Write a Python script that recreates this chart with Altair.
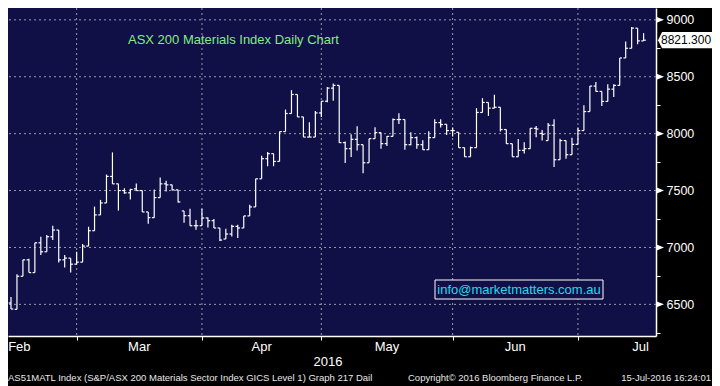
import altair as alt
import pandas as pd

# ---- data ----
opens = [6512, 6456, 6747, 6891, 6779, 7041, 6962, 7094, 7153, 6891, 6906, 6853, 6871, 7012, 7147, 7286, 7391, 7624, 7559, 7500,
         7480, 7515, 7500, 7312, 7262, 7438, 7559, 7550, 7506, 7321, 7279, 7191, 7191, 7259, 7235, 7171, 7074, 7118, 7185, 7171,
         7277, 7356, 7603, 7780, 7824, 7756, 8018, 8177, 8344, 8147, 7970, 7970, 8182, 8285, 8400, 8424, 7921, 7868, 7950, 7903,
         7744, 7956, 8009, 7912, 7976, 8124, 8124, 7903, 7965, 7903, 7859, 7965, 8097, 8082, 8027, 8012, 7877, 7797, 7877, 8186,
         8274, 8224, 8232, 8036, 7912, 7797, 7853, 7868, 8047, 8002, 7939, 8074, 7771, 7939, 7815, 7906, 8027, 8194, 8418, 8371,
         8283, 8391, 8424, 8665, 8750, 8927, 8815]
highs = [6565, 6765, 6891, 6900, 7041, 7094, 7109, 7191, 7153, 6933, 6906, 6962, 7030, 7182, 7359, 7418, 7641, 7835, 7559, 7520,
         7515, 7562, 7500, 7312, 7509, 7615, 7586, 7550, 7506, 7321, 7341, 7241, 7341, 7264, 7250, 7171, 7165, 7200, 7200, 7277,
         7376, 7603, 7806, 7838, 7824, 8018, 8212, 8382, 8344, 8147, 8100, 8200, 8285, 8409, 8441, 8424, 7932, 7994, 8065, 7903,
         7956, 8056, 8009, 7979, 8133, 8179, 8124, 8012, 7976, 7941, 8021, 8126, 8126, 8082, 8053, 8012, 7877, 7886, 8224, 8312,
         8274, 8341, 8232, 8036, 7912, 7953, 7924, 8047, 8067, 8032, 8094, 8126, 7956, 7939, 7965, 8053, 8250, 8418, 8453, 8371,
         8435, 8435, 8665, 8809, 8936, 8927, 8883]
lows = [6459, 6456, 6747, 6779, 6779, 6933, 6962, 7065, 6867, 6823, 6779, 6853, 6871, 7012, 7147, 7286, 7391, 7559, 7324, 7471,
        7421, 7500, 7312, 7209, 7262, 7438, 7491, 7500, 7394, 7218, 7191, 7156, 7191, 7176, 7171, 7056, 7074, 7097, 7083, 7171,
        7277, 7356, 7603, 7714, 7714, 7756, 8018, 8177, 8147, 7970, 7970, 7970, 8147, 8276, 8288, 7921, 7741, 7794, 7853, 7653,
        7744, 7956, 7868, 7891, 7976, 8085, 7859, 7897, 7868, 7859, 7859, 7965, 8053, 7988, 7974, 7877, 7797, 7797, 7877, 8186,
        8156, 8224, 8018, 7912, 7797, 7797, 7826, 7868, 7968, 7939, 7939, 7706, 7771, 7780, 7815, 7906, 8027, 8194, 8371, 8244,
        8283, 8323, 8424, 8665, 8750, 8786, 8815]
closes = [6459, 6747, 6891, 6779, 7041, 6962, 7094, 7153, 6891, 6906, 6853, 6871, 7012, 7147, 7286, 7391, 7624, 7559, 7500, 7480,
          7509, 7500, 7312, 7262, 7438, 7559, 7550, 7506, 7400, 7279, 7191, 7191, 7259, 7235, 7171, 7065, 7118, 7185, 7171, 7277,
          7356, 7603, 7780, 7824, 7756, 8018, 8177, 8344, 8147, 7970, 7970, 8182, 8285, 8400, 8424, 7921, 7868, 7950, 7903, 7744,
          7956, 8009, 7912, 7976, 8124, 8124, 7903, 7965, 7903, 7859, 7965, 8097, 8080, 8027, 8027, 7877, 7797, 7877, 8186, 8274,
          8224, 8232, 8036, 7912, 7797, 7853, 7868, 8047, 8041, 7994, 8074, 7771, 7939, 7815, 7906, 8027, 8194, 8418, 8371, 8283,
          8391, 8424, 8665, 8750, 8927, 8815, 8821.3]

month_starts = [11, 32, 52, 74, 95]            # bar index of the month-boundary gridlines
month_names = ["Feb", "Mar", "Apr", "May", "Jun", "Jul"]
month_label_pos = [1.4, 21.5, 42, 63, 84.5, 105.5]
price_levels = [6500, 7000, 7500, 8000, 8500, 9000]
tick_levels = [6250, 6500, 6750, 7000, 7250, 7500, 7750, 8000, 8250, 8500, 8750, 9000]

W, H = 648, 328
RP, BP = 56, 50
BG = "#100f46"
FONT = "Liberation Sans"

df = pd.DataFrame({"i": list(range(len(opens))), "open": opens, "high": highs,
                   "low": lows, "close": closes})

xs = alt.Scale(domain=[-0.5, 108.08], nice=False, zero=False)
ys = alt.Scale(domain=[6222, 9104], nice=False, zero=False)
x_axis = alt.Axis(values=month_starts, labels=False, ticks=True, tickSize=4, tickColor="white",
                  domainColor="white", domainWidth=1.5, grid=False, title=None)
y_axis = alt.Axis(orient="right", values=tick_levels, format="d", tickSize=4, tickColor="white",
                  domainColor="white", domainWidth=1.5, grid=False, title=None, labelPadding=6,
                  labelExpr="datum.value % 500 == 0 ? datum.label : ''",
                  labelColor="white", labelFontSize=12.5, labelFont=FONT, labelBaseline="middle")

grid_style = dict(color="#9a9aa6", strokeDash=[2, 3], strokeWidth=1)

vgrid = alt.Chart(pd.DataFrame({"m": month_starts})).mark_rule(**grid_style).encode(
    x=alt.X("m:Q", scale=xs, axis=x_axis))
hgrid = alt.Chart(pd.DataFrame({"v": price_levels})).mark_rule(**grid_style).encode(
    y=alt.Y("v:Q", scale=ys, axis=y_axis))

bar_style = dict(color="white", strokeWidth=1.2, clip=True)
hl = alt.Chart(df).mark_rule(**bar_style).encode(
    x=alt.X("i:Q", scale=xs, axis=x_axis),
    y=alt.Y("low:Q", scale=ys, axis=y_axis), y2="high:Q")
op = alt.Chart(df).transform_calculate(il="datum.i - 0.38").mark_rule(**bar_style).encode(
    x=alt.X("il:Q", scale=xs, axis=x_axis), x2="i:Q",
    y=alt.Y("open:Q", scale=ys, axis=y_axis))
cl = alt.Chart(df).transform_calculate(ir="datum.i + 0.38").mark_rule(**bar_style).encode(
    x=alt.X("i:Q", scale=xs, axis=x_axis), x2="ir:Q",
    y=alt.Y("close:Q", scale=ys, axis=y_axis))

# right-axis triangle pointers at the labelled levels
tri = alt.Chart(pd.DataFrame({"lv": price_levels})).mark_point(
    shape="M-1,-0.8L1,0L-1,0.8Z", filled=True, size=64, color="white", opacity=1).encode(
    x=alt.value(W + 4), y=alt.Y("lv:Q", scale=ys, axis=y_axis))

# last price tag
last_df = pd.DataFrame({"last": [closes[-1]], "txt": [f"{closes[-1]:.3f}"]})
tag = alt.Chart(last_df).mark_point(
    shape="M-1,0L-0.85,-0.3L1,-0.3L1,0.3L-0.85,0.3Z", filled=True, size=2916,
    color="white", opacity=1).encode(x=alt.value(W + 29), y=alt.Y("last:Q", scale=ys, axis=y_axis))
tag_txt = alt.Chart(last_df).mark_text(align="left", baseline="middle", font=FONT, fontSize=12,
                                       color="black").encode(
    x=alt.value(W + 5), y=alt.Y("last:Q", scale=ys, axis=y_axis), text="txt:N")

# month labels below the axis
months = alt.Chart(pd.DataFrame({"m": month_names, "p": month_label_pos})).mark_text(
    align="center", baseline="middle", font=FONT, fontSize=13, color="white").encode(
    x=alt.X("p:Q", scale=xs, axis=x_axis), y=alt.value(H + 11), text="m:N")

year = alt.Chart(pd.DataFrame({"t": ["2016"]})).mark_text(
    align="center", baseline="middle", font=FONT, fontSize=13, color="white").encode(
    x=alt.value(320), y=alt.value(H + 26), text="t:N")

title = alt.Chart(pd.DataFrame({"t": ["ASX 200 Materials Index Daily Chart"]})).mark_text(
    align="left", baseline="alphabetic", font=FONT, fontSize=13, color="#80ee80").encode(
    x=alt.value(120), y=alt.value(36), text="t:N")

wm_box = alt.Chart(pd.DataFrame({"t": [1]})).mark_rect(fill=BG, stroke="white", strokeWidth=1).encode(
    x=alt.value(427), x2=alt.value(595), y=alt.value(272), y2=alt.value(291))
wm_txt = alt.Chart(pd.DataFrame({"t": ["info@marketmatters.com.au"]})).mark_text(
    align="center", baseline="middle", font=FONT, fontSize=13, color="#20dcf0").encode(
    x=alt.value(511), y=alt.value(282), text="t:N")

foot_df = pd.DataFrame({
    "t": ["AS51MATL Index (S&P/ASX 200 Materials Sector Index GICS Level 1) Graph 217  Dail",
          "Copyright\u00a9 2016 Bloomberg Finance L.P.",
          "15-Jul-2016 16:24:01"],
})
foot_l = alt.Chart(foot_df.iloc[[0]]).mark_text(align="left", baseline="middle", font=FONT,
                                               fontSize=9.5, color="#e8e8e8").encode(
    x=alt.value(0), y=alt.value(H + 42), text="t:N")
foot_c = alt.Chart(foot_df.iloc[[1]]).mark_text(align="left", baseline="middle", font=FONT,
                                               fontSize=9.5, color="#e8e8e8").encode(
    x=alt.value(400), y=alt.value(H + 42), text="t:N")
foot_r = alt.Chart(foot_df.iloc[[2]]).mark_text(align="right", baseline="middle", font=FONT,
                                               fontSize=9.5, color="#e8e8e8").encode(
    x=alt.value(W + RP - 1), y=alt.value(H + 42), text="t:N")

chart = alt.layer(
    vgrid, hgrid, hl, op, cl, tri, tag, tag_txt, months, year, title, wm_box, wm_txt,
    foot_l, foot_c, foot_r
).properties(
    width=W, height=H,
    autosize=alt.AutoSizeParams(type="none"),
    padding={"left": 0, "top": 0, "right": RP, "bottom": BP},
    background="black",
).configure_view(fill=BG, stroke=None)

chart.save("out.html", embed_options={"renderer": "svg", "actions": False})
